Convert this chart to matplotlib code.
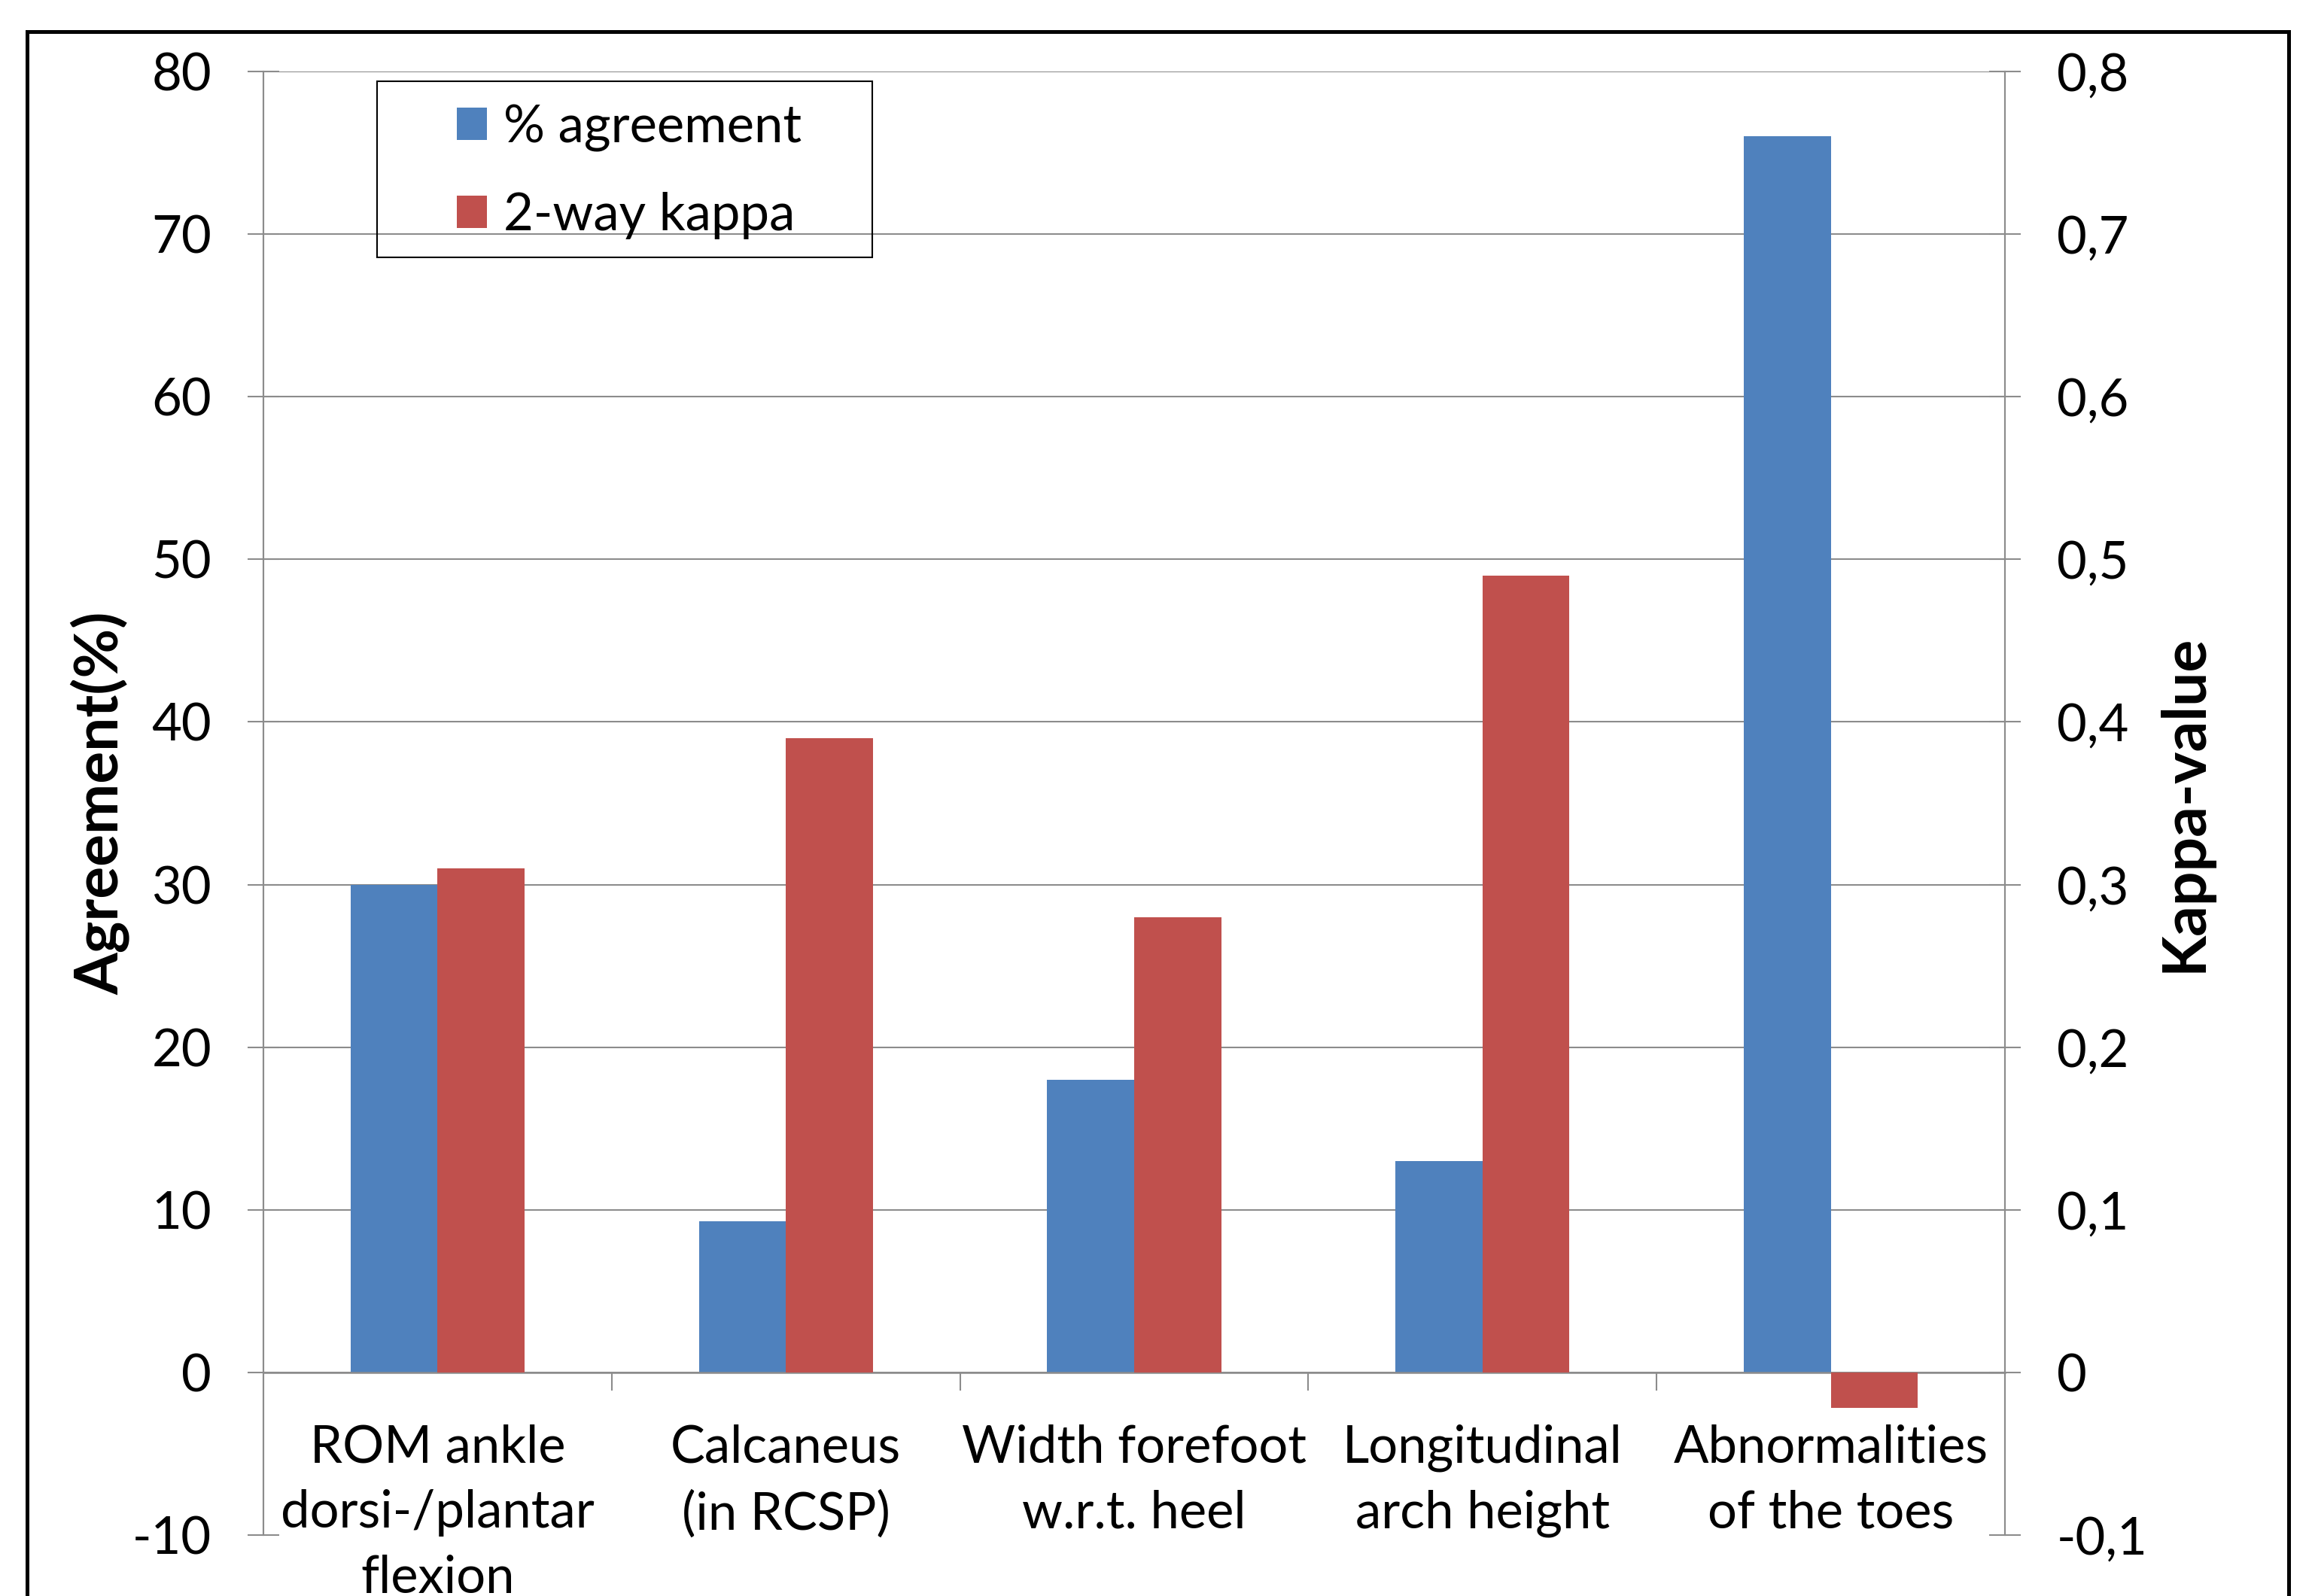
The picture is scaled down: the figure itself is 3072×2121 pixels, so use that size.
import numpy as np
import matplotlib.pyplot as plt
from matplotlib.patches import Rectangle
from matplotlib.ticker import FuncFormatter, FixedLocator

categories = ["ROM ankle\ndorsi-/plantar\nflexion", "Calcaneus\n(in RCSP)",
              "Width forefoot\nw.r.t. heel", "Longitudinal\narch height",
              "Abnormalities\nof the toes"]
agreement = [30, 9.3, 18, 13, 76]          # % agreement (left axis)
kappa = [0.31, 0.39, 0.28, 0.49, -0.022]   # 2-way kappa (right axis)
left_ticks = [-10, 0, 10, 20, 30, 40, 50, 60, 70, 80]
right_ticks = [-0.1, 0, 0.1, 0.2, 0.3, 0.4, 0.5, 0.6, 0.7, 0.8]

blue = '#4F81BD'
red = '#C0504D'
grey = '#8C8C8C'
fs = 16.5

plt.rcParams['font.family'] = ['Lato', 'DejaVu Sans']
plt.rcParams['axes.unicode_minus'] = False

W, H = 3072, 2121
fig = plt.figure(figsize=(W / 300, H / 300), dpi=300)
ax = fig.add_axes([350 / W, 1 - 2040 / H, (2664 - 350) / W, (2040 - 95) / H])
ax2 = ax.twinx()

x = np.arange(len(categories))
w = 0.25
b1 = ax.bar(x - w / 2, agreement, w, color=blue, label='% agreement', zorder=2)
b2 = ax2.bar(x + w / 2, kappa, w, color=red, label='2-way kappa', zorder=2)

ax.set_xlim(-0.5, len(categories) - 0.5)
ax.set_ylim(-10, 80)
ax2.set_ylim(-0.1, 0.8)
ax.set_yticks(left_ticks)
ax2.set_yticks(right_ticks)
ax2.yaxis.set_major_formatter(FuncFormatter(lambda v, p: ('%g' % round(v, 2)).replace('.', ',')))

# gridlines (none at -10)
ax.set_axisbelow(True)
ax.yaxis.grid(True, color=grey, lw=0.5)
ax.get_ygridlines()[0].set_visible(False)

for a in (ax, ax2):
    a.spines['top'].set_visible(False)
    for s in ('left', 'right'):
        a.spines[s].set_color(grey)
        a.spines[s].set_linewidth(0.5)
    a.spines['bottom'].set_visible(False)
ax.spines['bottom'].set_visible(True)
ax.spines['bottom'].set_position(('data', 0))
ax.spines['bottom'].set_color(grey)
ax.spines['bottom'].set_linewidth(0.6)

ax.tick_params(axis='y', direction='inout', length=10, width=0.5, color=grey,
               pad=11.5, labelsize=fs)
ax2.tick_params(axis='y', direction='inout', length=10, width=0.5, color=grey,
                pad=11.5, labelsize=fs)

ax.set_xticks(x)
ax.set_xticklabels(categories, fontsize=fs, linespacing=1.46)
ax.tick_params(axis='x', which='major', length=0, pad=16.5)
ax.xaxis.set_minor_locator(FixedLocator(np.arange(0.5, len(categories) - 0.5, 1)))
ax.tick_params(axis='x', which='minor', direction='out', length=5.8, width=0.5, color=grey)

ax.set_ylabel('Agreement(%)', fontsize=19.3, fontweight='bold')
ax.yaxis.set_label_coords((172 - 350) / (2664 - 350), 0.5)
ax2.set_ylabel('Kappa-value', fontsize=19.3, fontweight='bold', rotation=90)
ax2.yaxis.set_label_coords((2866 - 350) / (2664 - 350), 0.5)

# legend with separate box
leg = ax2.legend([b1, b2], ['% agreement', '2-way kappa'], frameon=False,
                 loc='upper left', bbox_to_anchor=(607 / W, 1 - 138 / H),
                 bbox_transform=fig.transFigure, borderpad=0, borderaxespad=0,
                 fontsize=fs, handlelength=0.58, handleheight=0.58,
                 handletextpad=0.32, labelspacing=0.78)
fig.patches.append(Rectangle((501 / W, 1 - 342 / H), 658 / W, 234 / H,
                             transform=fig.transFigure, fill=False,
                             edgecolor='black', lw=0.5, zorder=5))

# outer chart frame (bottom edge is outside the picture)
fig.patches.append(Rectangle((36 / W, -0.1), (3041 - 36) / W, 1.1 - 42 / H,
                             transform=fig.transFigure, fill=False,
                             edgecolor='black', lw=1.2, zorder=5))

fig.savefig('out.png', dpi=300)
